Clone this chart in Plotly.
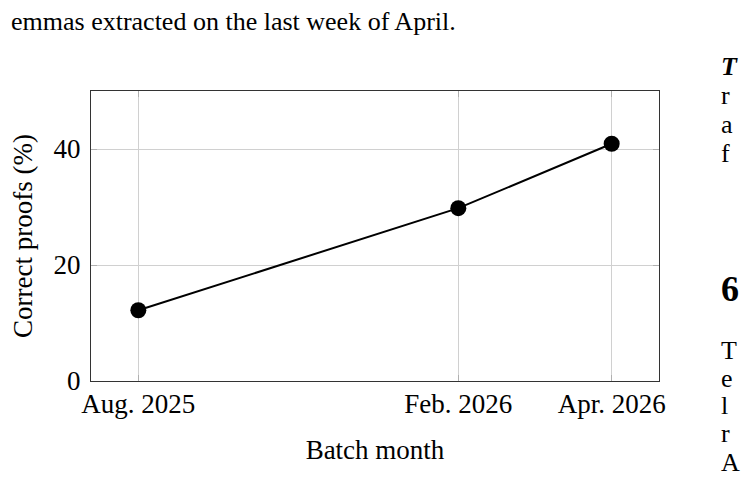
import plotly.graph_objects as go

# batch months and share of correct proofs
batch_labels = ["Aug. 2025", "Feb. 2026", "Apr. 2026"]
batch_x = [0.0, 0.676, 1.0]
correct_pct = [12.2, 29.8, 40.9]
y_ticks = [0, 20, 40]

serif = "Liberation Serif"

fig = go.Figure()
fig.add_trace(go.Scatter(
    x=batch_x,
    y=correct_pct,
    mode="lines+markers",
    line=dict(color="black", width=2),
    marker=dict(color="black", size=16),
    showlegend=False,
))

fig.update_xaxes(
    range=[-0.1, 1.1],
    tickvals=batch_x,
    ticktext=batch_labels,
    showgrid=True, gridcolor="#d0d0d0", gridwidth=1,
    showline=True, linecolor="#333333", linewidth=1.2, mirror="ticks",
    ticks="inside", ticklen=6, tickcolor="#b0b0b0",
    tickfont=dict(family=serif, size=27, color="black"),
    ticklabelstandoff=-2,
    title=dict(text="Batch month", font=dict(family=serif, size=27, color="black"), standoff=22),
    zeroline=False,
)
fig.update_yaxes(
    range=[0, 50],
    tickvals=y_ticks,
    showgrid=True, gridcolor="#d0d0d0", gridwidth=1,
    showline=True, linecolor="#333333", linewidth=1.2, mirror="ticks",
    ticks="inside", ticklen=6, tickcolor="#b0b0b0",
    tickfont=dict(family=serif, size=27, color="black"),
    ticklabelstandoff=4,
    title=dict(text="Correct proofs (%)", font=dict(family=serif, size=27, color="black"), standoff=24),
    zeroline=False,
)

# fragments of the surrounding page text
page_text = dict(family=serif, size=26, color="black")
fig.add_annotation(text="emmas extracted on the last week of April.", xref="paper", yref="paper",
                   x=-0.145, y=1.295, xanchor="left", yanchor="top", showarrow=False, font=page_text)
right_col = [("<b><i>T</i></b>", 1.083), ("r", 0.983), ("a", 0.883), ("f", 0.786),
             ("<b>6</b>", 0.317), ("T", 0.106), ("e", 0.009), ("l", -0.084), ("r", -0.181), ("A", -0.281)]
for txt, yy in right_col:
    fnt = dict(page_text)
    if txt == "<b>6</b>":
        fnt["size"] = 36
    fig.add_annotation(text=txt, xref="paper", yref="paper", x=1.106, y=yy,
                       xanchor="left", yanchor="middle", showarrow=False, font=fnt)

# the page body adds an 8px margin, so the figure is kept inside the window
fig.update_layout(
    width=733, height=470,
    margin=dict(l=83, r=82, t=83, b=97, autoexpand=False),
    plot_bgcolor="white", paper_bgcolor="white",
)
fig.write_html("out.html")
